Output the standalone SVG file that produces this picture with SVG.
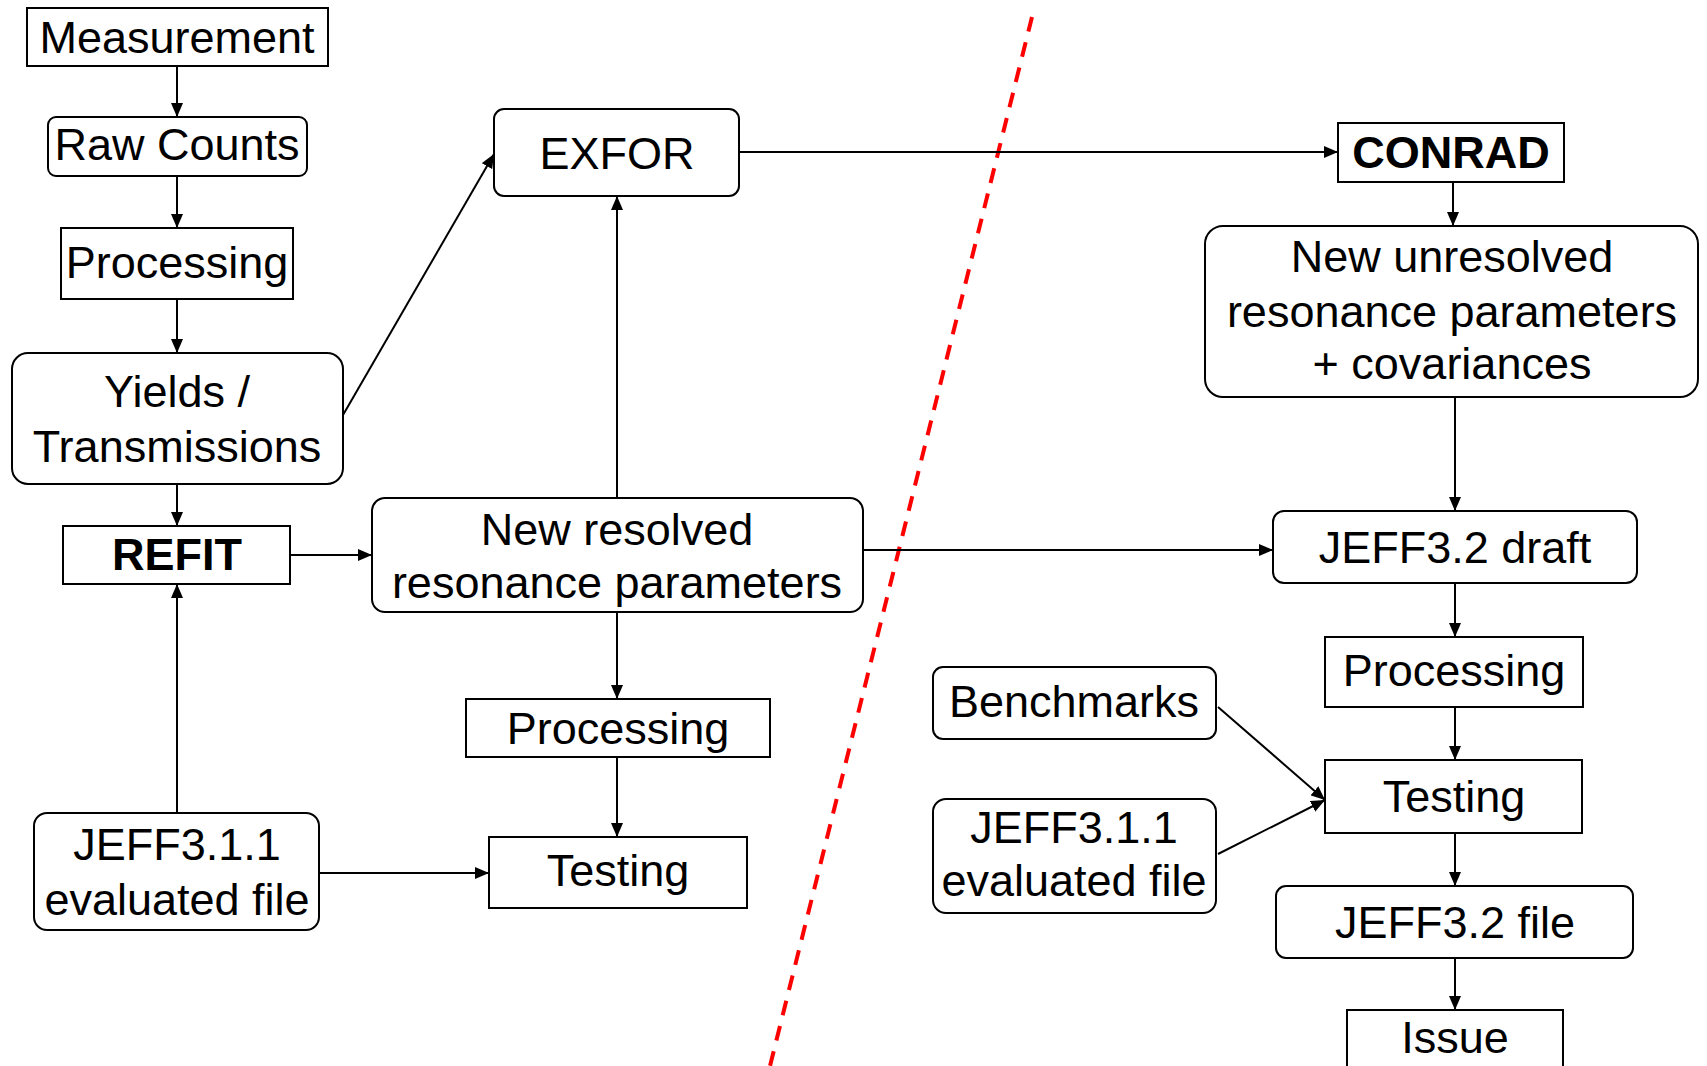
<svg xmlns="http://www.w3.org/2000/svg" width="1707" height="1066" viewBox="0 0 1707 1066">
<style>
.box{fill:#fff;stroke:#000;stroke-width:2}
.t{font-family:"Liberation Sans",Arial,sans-serif;font-size:45px;text-anchor:middle;fill:#000}
.b{font-weight:bold}
.c{fill:none;stroke:#000;stroke-width:2;marker-end:url(#arr)}
</style>
<defs>
<marker id="arr" viewBox="0 0 14 12" refX="14" refY="6" markerWidth="14" markerHeight="12" markerUnits="userSpaceOnUse" orient="auto">
<path d="M0,0 L14,6 L0,12 z" fill="#000"/>
</marker>
</defs>
<rect width="1707" height="1066" fill="#fff"/>
<line x1="1032" y1="17" x2="770" y2="1066" stroke="#ff0000" stroke-width="4" stroke-dasharray="15 11"/>
<g id="connectors">
<path class="c" d="M177,66 V117"/>
<path class="c" d="M177,176 V228"/>
<path class="c" d="M177,299 V353"/>
<path class="c" d="M177,484 V526"/>
<path class="c" d="M177,813 V584"/>
<path class="c" d="M290,555 H372"/>
<path class="c" d="M343,415 L494,154"/>
<path class="c" d="M617,498 V196"/>
<path class="c" d="M739,152 H1338"/>
<path class="c" d="M1453,182 V226"/>
<path class="c" d="M1455,397 V511"/>
<path class="c" d="M863,550 H1273"/>
<path class="c" d="M617,612 V699"/>
<path class="c" d="M617,757 V837"/>
<path class="c" d="M319,873 H489"/>
<path class="c" d="M1455,583 V637"/>
<path class="c" d="M1455,707 V760"/>
<path class="c" d="M1218,707 L1325,800"/>
<path class="c" d="M1218,854 L1325,800"/>
<path class="c" d="M1455,833 V886"/>
<path class="c" d="M1455,958 V1010"/>
</g>
<g id="measurement"><rect class="box" x="27" y="8" width="301" height="58"/><text class="t" x="177" y="53">Measurement</text></g>
<g id="raw-counts"><rect class="box" x="48" y="117" width="259" height="59" rx="8"/><text class="t" x="177" y="160">Raw Counts</text></g>
<g id="processing-1"><rect class="box" x="61" y="228" width="232" height="71"/><text class="t" x="177" y="278">Processing</text></g>
<g id="yields"><rect class="box" x="12" y="353" width="331" height="131" rx="16"/><text class="t" x="177" y="407">Yields /</text><text class="t" x="177" y="462">Transmissions</text></g>
<g id="refit"><rect class="box" x="63" y="526" width="227" height="58"/><text class="t b" x="177" y="570">REFIT</text></g>
<g id="jeff311-left"><rect class="box" x="34" y="813" width="285" height="117" rx="13"/><text class="t" x="177" y="860">JEFF3.1.1</text><text class="t" x="177" y="915">evaluated file</text></g>
<g id="exfor"><rect class="box" x="494" y="109" width="245" height="87" rx="10"/><text class="t" x="617" y="169">EXFOR</text></g>
<g id="new-resolved"><rect class="box" x="372" y="498" width="491" height="114" rx="13"/><text class="t" x="617" y="545">New resolved</text><text class="t" x="617" y="598">resonance parameters</text></g>
<g id="processing-2"><rect class="box" x="466" y="699" width="304" height="58"/><text class="t" x="618" y="744">Processing</text></g>
<g id="testing-1"><rect class="box" x="489" y="837" width="258" height="71"/><text class="t" x="618" y="886">Testing</text></g>
<g id="conrad"><rect class="box" x="1338" y="123" width="226" height="59"/><text class="t b" x="1451" y="168">CONRAD</text></g>
<g id="new-unresolved"><rect class="box" x="1205" y="226" width="493" height="171" rx="18"/><text class="t" x="1452" y="272">New unresolved</text><text class="t" x="1452" y="327">resonance parameters</text><text class="t" x="1452" y="379">+ covariances</text></g>
<g id="jeff32-draft"><rect class="box" x="1273" y="511" width="364" height="72" rx="11"/><text class="t" x="1455" y="563">JEFF3.2 draft</text></g>
<g id="processing-3"><rect class="box" x="1325" y="637" width="258" height="70"/><text class="t" x="1454" y="686">Processing</text></g>
<g id="benchmarks"><rect class="box" x="933" y="667" width="283" height="72" rx="10"/><text class="t" x="1074" y="717">Benchmarks</text></g>
<g id="jeff311-right"><rect class="box" x="933" y="799" width="283" height="114" rx="13"/><text class="t" x="1074" y="843">JEFF3.1.1</text><text class="t" x="1074" y="896">evaluated file</text></g>
<g id="testing-2"><rect class="box" x="1325" y="760" width="257" height="73"/><text class="t" x="1454" y="812">Testing</text></g>
<g id="jeff32-file"><rect class="box" x="1276" y="886" width="357" height="72" rx="10"/><text class="t" x="1455" y="938">JEFF3.2 file</text></g>
<g id="issue"><rect class="box" x="1347" y="1010" width="216" height="70"/><text class="t" x="1455" y="1053">Issue</text></g>
</svg>
